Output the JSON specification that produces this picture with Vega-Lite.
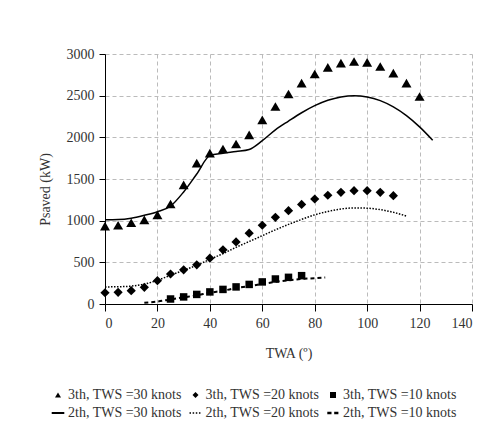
{
  "$schema": "https://vega.github.io/schema/vega-lite/v6.json",
  "width": 367,
  "height": 250,
  "autosize": {"type": "none"},
  "padding": {"left": 105, "top": 54, "right": 23, "bottom": 126},
  "background": "white",
  "datasets": {
    "pts": [
      {"series": "3th, TWS =30 knots", "twa": 0, "p": 935},
      {"series": "3th, TWS =30 knots", "twa": 5, "p": 945},
      {"series": "3th, TWS =30 knots", "twa": 10, "p": 975},
      {"series": "3th, TWS =30 knots", "twa": 15, "p": 1010},
      {"series": "3th, TWS =30 knots", "twa": 20, "p": 1070},
      {"series": "3th, TWS =30 knots", "twa": 25, "p": 1200},
      {"series": "3th, TWS =30 knots", "twa": 30, "p": 1430},
      {"series": "3th, TWS =30 knots", "twa": 35, "p": 1690},
      {"series": "3th, TWS =30 knots", "twa": 40, "p": 1810},
      {"series": "3th, TWS =30 knots", "twa": 45, "p": 1860},
      {"series": "3th, TWS =30 knots", "twa": 50, "p": 1920},
      {"series": "3th, TWS =30 knots", "twa": 55, "p": 2030},
      {"series": "3th, TWS =30 knots", "twa": 60, "p": 2210},
      {"series": "3th, TWS =30 knots", "twa": 65, "p": 2370},
      {"series": "3th, TWS =30 knots", "twa": 70, "p": 2520},
      {"series": "3th, TWS =30 knots", "twa": 75, "p": 2650},
      {"series": "3th, TWS =30 knots", "twa": 80, "p": 2760},
      {"series": "3th, TWS =30 knots", "twa": 85, "p": 2840},
      {"series": "3th, TWS =30 knots", "twa": 90, "p": 2890},
      {"series": "3th, TWS =30 knots", "twa": 95, "p": 2910},
      {"series": "3th, TWS =30 knots", "twa": 100, "p": 2900},
      {"series": "3th, TWS =30 knots", "twa": 105, "p": 2850},
      {"series": "3th, TWS =30 knots", "twa": 110, "p": 2770},
      {"series": "3th, TWS =30 knots", "twa": 115, "p": 2650},
      {"series": "3th, TWS =30 knots", "twa": 120, "p": 2490},
      {"series": "3th, TWS =20 knots", "twa": 0, "p": 135},
      {"series": "3th, TWS =20 knots", "twa": 5, "p": 140},
      {"series": "3th, TWS =20 knots", "twa": 10, "p": 160},
      {"series": "3th, TWS =20 knots", "twa": 15, "p": 200},
      {"series": "3th, TWS =20 knots", "twa": 20, "p": 280},
      {"series": "3th, TWS =20 knots", "twa": 25, "p": 360},
      {"series": "3th, TWS =20 knots", "twa": 30, "p": 410},
      {"series": "3th, TWS =20 knots", "twa": 35, "p": 470},
      {"series": "3th, TWS =20 knots", "twa": 40, "p": 550},
      {"series": "3th, TWS =20 knots", "twa": 45, "p": 650},
      {"series": "3th, TWS =20 knots", "twa": 50, "p": 745},
      {"series": "3th, TWS =20 knots", "twa": 55, "p": 850},
      {"series": "3th, TWS =20 knots", "twa": 60, "p": 945},
      {"series": "3th, TWS =20 knots", "twa": 65, "p": 1040},
      {"series": "3th, TWS =20 knots", "twa": 70, "p": 1120},
      {"series": "3th, TWS =20 knots", "twa": 75, "p": 1195},
      {"series": "3th, TWS =20 knots", "twa": 80, "p": 1260},
      {"series": "3th, TWS =20 knots", "twa": 85, "p": 1305},
      {"series": "3th, TWS =20 knots", "twa": 90, "p": 1340},
      {"series": "3th, TWS =20 knots", "twa": 95, "p": 1360},
      {"series": "3th, TWS =20 knots", "twa": 100, "p": 1360},
      {"series": "3th, TWS =20 knots", "twa": 105, "p": 1340},
      {"series": "3th, TWS =20 knots", "twa": 110, "p": 1300},
      {"series": "3th, TWS =10 knots", "twa": 25, "p": 60},
      {"series": "3th, TWS =10 knots", "twa": 30, "p": 85},
      {"series": "3th, TWS =10 knots", "twa": 35, "p": 115},
      {"series": "3th, TWS =10 knots", "twa": 40, "p": 145},
      {"series": "3th, TWS =10 knots", "twa": 45, "p": 175},
      {"series": "3th, TWS =10 knots", "twa": 50, "p": 205},
      {"series": "3th, TWS =10 knots", "twa": 55, "p": 235},
      {"series": "3th, TWS =10 knots", "twa": 60, "p": 265},
      {"series": "3th, TWS =10 knots", "twa": 65, "p": 300},
      {"series": "3th, TWS =10 knots", "twa": 70, "p": 320},
      {"series": "3th, TWS =10 knots", "twa": 75, "p": 340}
    ],
    "lines": [
      {"series": "2th, TWS =30 knots", "twa": 0, "p": 1010},
      {"series": "2th, TWS =30 knots", "twa": 5, "p": 1013},
      {"series": "2th, TWS =30 knots", "twa": 10, "p": 1030},
      {"series": "2th, TWS =30 knots", "twa": 15, "p": 1065},
      {"series": "2th, TWS =30 knots", "twa": 20, "p": 1108},
      {"series": "2th, TWS =30 knots", "twa": 25, "p": 1175},
      {"series": "2th, TWS =30 knots", "twa": 30, "p": 1345},
      {"series": "2th, TWS =30 knots", "twa": 35, "p": 1560},
      {"series": "2th, TWS =30 knots", "twa": 40, "p": 1780},
      {"series": "2th, TWS =30 knots", "twa": 45, "p": 1808},
      {"series": "2th, TWS =30 knots", "twa": 50, "p": 1830},
      {"series": "2th, TWS =30 knots", "twa": 55, "p": 1855},
      {"series": "2th, TWS =30 knots", "twa": 60, "p": 1960},
      {"series": "2th, TWS =30 knots", "twa": 65, "p": 2090},
      {"series": "2th, TWS =30 knots", "twa": 70, "p": 2195},
      {"series": "2th, TWS =30 knots", "twa": 75, "p": 2295},
      {"series": "2th, TWS =30 knots", "twa": 80, "p": 2380},
      {"series": "2th, TWS =30 knots", "twa": 85, "p": 2445},
      {"series": "2th, TWS =30 knots", "twa": 90, "p": 2485},
      {"series": "2th, TWS =30 knots", "twa": 95, "p": 2500},
      {"series": "2th, TWS =30 knots", "twa": 100, "p": 2485},
      {"series": "2th, TWS =30 knots", "twa": 105, "p": 2440},
      {"series": "2th, TWS =30 knots", "twa": 110, "p": 2365},
      {"series": "2th, TWS =30 knots", "twa": 115, "p": 2260},
      {"series": "2th, TWS =30 knots", "twa": 120, "p": 2125},
      {"series": "2th, TWS =30 knots", "twa": 125, "p": 1965},
      {"series": "2th, TWS =20 knots", "twa": 0, "p": 205},
      {"series": "2th, TWS =20 knots", "twa": 5, "p": 207},
      {"series": "2th, TWS =20 knots", "twa": 10, "p": 215},
      {"series": "2th, TWS =20 knots", "twa": 15, "p": 238},
      {"series": "2th, TWS =20 knots", "twa": 20, "p": 285},
      {"series": "2th, TWS =20 knots", "twa": 25, "p": 345},
      {"series": "2th, TWS =20 knots", "twa": 30, "p": 405},
      {"series": "2th, TWS =20 knots", "twa": 35, "p": 465},
      {"series": "2th, TWS =20 knots", "twa": 40, "p": 535},
      {"series": "2th, TWS =20 knots", "twa": 45, "p": 605},
      {"series": "2th, TWS =20 knots", "twa": 50, "p": 680},
      {"series": "2th, TWS =20 knots", "twa": 55, "p": 750},
      {"series": "2th, TWS =20 knots", "twa": 60, "p": 820},
      {"series": "2th, TWS =20 knots", "twa": 65, "p": 890},
      {"series": "2th, TWS =20 knots", "twa": 70, "p": 955},
      {"series": "2th, TWS =20 knots", "twa": 75, "p": 1015},
      {"series": "2th, TWS =20 knots", "twa": 80, "p": 1070},
      {"series": "2th, TWS =20 knots", "twa": 85, "p": 1110},
      {"series": "2th, TWS =20 knots", "twa": 90, "p": 1140},
      {"series": "2th, TWS =20 knots", "twa": 95, "p": 1152},
      {"series": "2th, TWS =20 knots", "twa": 100, "p": 1150},
      {"series": "2th, TWS =20 knots", "twa": 105, "p": 1132},
      {"series": "2th, TWS =20 knots", "twa": 110, "p": 1100},
      {"series": "2th, TWS =20 knots", "twa": 115, "p": 1055},
      {"series": "2th, TWS =10 knots", "twa": 15, "p": 15},
      {"series": "2th, TWS =10 knots", "twa": 20, "p": 30},
      {"series": "2th, TWS =10 knots", "twa": 25, "p": 55},
      {"series": "2th, TWS =10 knots", "twa": 30, "p": 80},
      {"series": "2th, TWS =10 knots", "twa": 35, "p": 105},
      {"series": "2th, TWS =10 knots", "twa": 40, "p": 135},
      {"series": "2th, TWS =10 knots", "twa": 45, "p": 160},
      {"series": "2th, TWS =10 knots", "twa": 50, "p": 190},
      {"series": "2th, TWS =10 knots", "twa": 55, "p": 215},
      {"series": "2th, TWS =10 knots", "twa": 60, "p": 240},
      {"series": "2th, TWS =10 knots", "twa": 65, "p": 265},
      {"series": "2th, TWS =10 knots", "twa": 70, "p": 285},
      {"series": "2th, TWS =10 knots", "twa": 75, "p": 300},
      {"series": "2th, TWS =10 knots", "twa": 80, "p": 310},
      {"series": "2th, TWS =10 knots", "twa": 84, "p": 318}
    ]
  },
  "encoding": {
    "x": {
      "field": "twa", "type": "quantitative",
      "scale": {"domain": [0, 140], "nice": false},
      "axis": {"values": [0, 20, 40, 60, 80, 100, 120, 140], "grid": true, "title": "TWA (º)", "tickSize": 7, "titlePadding": 16}
    },
    "y": {
      "field": "p", "type": "quantitative",
      "scale": {"domain": [0, 3000], "nice": false},
      "axis": {"values": [0, 500, 1000, 1500, 2000, 2500, 3000], "grid": true, "format": "d", "title": "Psaved (kW)", "tickSize": 6, "titlePadding": 14, "titleY": 135}
    }
  },
  "layer": [
    {
      "data": {"name": "lines"},
      "transform": [{"filter": "datum.series === '2th, TWS =30 knots'"}],
      "mark": {"type": "line", "color": "black", "strokeWidth": 1.5, "interpolate": "monotone"},
      "encoding": {}
    },
    {
      "data": {"name": "lines"},
      "transform": [{"filter": "datum.series === '2th, TWS =20 knots'"}],
      "mark": {"type": "line", "color": "black", "strokeWidth": 1.5, "strokeDash": [1.5, 1.5], "interpolate": "monotone"},
      "encoding": {}
    },
    {
      "data": {"name": "lines"},
      "transform": [{"filter": "datum.series === '2th, TWS =10 knots'"}],
      "mark": {"type": "line", "color": "black", "strokeWidth": 2, "strokeDash": [4, 3], "interpolate": "monotone"},
      "encoding": {}
    },
    {
      "data": {"name": "pts"},
      "transform": [{"filter": "datum.series === '3th, TWS =30 knots'"}],
      "mark": {"type": "point", "filled": true, "color": "black", "opacity": 1, "size": 100},
      "encoding": {
        "shape": {
          "field": "series", "type": "nominal",
          "scale": {
            "domain": ["3th, TWS =30 knots", "3th, TWS =20 knots", "3th, TWS =10 knots", "2th, TWS =30 knots", "2th, TWS =20 knots", "2th, TWS =10 knots"],
            "range": [
              "triangle-up", "diamond", "square",
              "M-2.1,-0.33L2.1,-0.33L2.1,0.33L-2.1,0.33Z",
              "M-2,-0.27L-1.5,-0.27L-1.5,0.27L-2,0.27ZM-0.95,-0.27L-0.45,-0.27L-0.45,0.27L-0.95,0.27ZM0.1,-0.27L0.6,-0.27L0.6,0.27L0.1,0.27ZM1.15,-0.27L1.65,-0.27L1.65,0.27L1.15,0.27Z",
              "M-1.9,-0.4L-0.5,-0.4L-0.5,0.4L-1.9,0.4ZM0.4,-0.4L1.8,-0.4L1.8,0.4L0.4,0.4Z"
            ]
          },
          "legend": {
            "orient": "none", "legendX": -54, "legendY": 334,
            "direction": "horizontal", "columns": 3, "title": null,
            "columnPadding": 4.5, "rowPadding": 4, "labelOffset": 3,
            "symbolSize": 36, "labelLimit": 300,
            "encode": {
              "symbols": {
                "update": {
                  "fill": {"value": "black"},
                  "size": {"value": 36},
                  "opacity": {"value": 1}
                }
              }
            }
          }
        }
      }
    },
    {
      "data": {"name": "pts"},
      "transform": [{"filter": "datum.series === '3th, TWS =20 knots'"}],
      "mark": {"type": "point", "filled": true, "color": "black", "opacity": 1, "size": 85},
      "encoding": {"shape": {"field": "series", "type": "nominal"}}
    },
    {
      "data": {"name": "pts"},
      "transform": [{"filter": "datum.series === '3th, TWS =10 knots'"}],
      "mark": {"type": "point", "filled": true, "color": "black", "opacity": 1, "size": 56},
      "encoding": {"shape": {"field": "series", "type": "nominal"}}
    }
  ],
  "config": {
    "view": {"stroke": null},
    "font": "Liberation Serif",
    "axis": {
      "labelFont": "Liberation Serif", "labelFontSize": 14, "labelColor": "#333",
      "titleFont": "Liberation Serif", "titleFontSize": 14, "titleFontWeight": "normal", "titleColor": "#333",
      "domainColor": "black", "tickColor": "black", "labelPadding": 5,
      "gridColor": "#bbbbbb", "gridDash": [4, 3], "gridWidth": 1
    },
    "legend": {
      "labelFont": "Liberation Serif", "labelFontSize": 14, "labelColor": "#333"
    }
  }
}
